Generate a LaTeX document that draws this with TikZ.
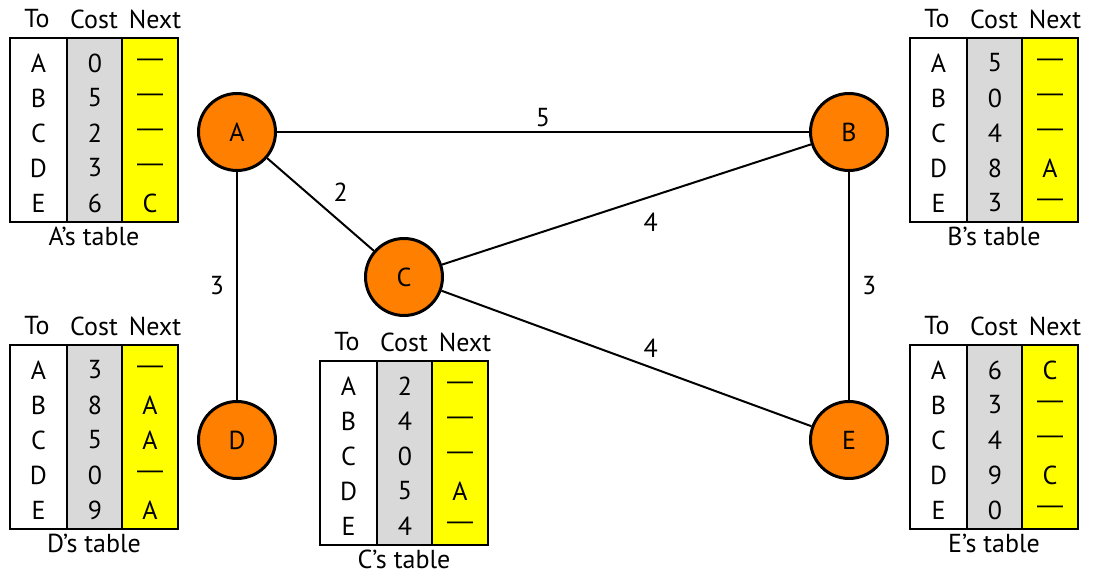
\documentclass[tikz,border=0pt]{standalone}
\usepackage{fontspec}
\setmainfont{PT Sans}
\newfontfamily\dashfont{Liberation Sans}
\usetikzlibrary{positioning}

\definecolor{nodeorange}{RGB}{255,128,0}
\definecolor{costgray}{RGB}{217,217,217}
\definecolor{nextyellow}{RGB}{255,255,0}

\newcommand{\nohop}{{\dashfont\fontsize{13}{15}\selectfont\raisebox{-1pt}{—}}}

\tikzset{
  router/.style={circle, draw, line width=1.5pt, fill=nodeorange,
    minimum size=38.5pt, inner sep=0pt, font=\fontsize{13}{15}\selectfont},
  link/.style={line width=1pt},
  cost/.style={font=\fontsize{13}{15}\selectfont, inner sep=2pt},
  cell/.style={font=\fontsize{13}{15}\selectfont, inner sep=0pt},
}

% routing table: x, y (top left), owner, costs, next hops
\newcommand{\rtable}[5]{%
  \begin{scope}[shift={(#1,#2)}]
    \fill[costgray] (57,0) rectangle (112,184);
    \fill[nextyellow] (112,0) rectangle (168,184);
    \draw[line width=1pt] (0,0) rectangle (168,184);
    \draw[line width=1pt] (57,0) -- (57,184) (112,0) -- (112,184);
    \node[cell] at (27,-19) {To};
    \node[cell] at (84,-19) {Cost};
    \node[cell] at (145,-19) {Next};
    \foreach \t [count=\i] in {A,B,C,D,E}
      \node[cell] at (28.5,{25+35*(\i-1)}) {\t};
    \foreach \c [count=\i] in {#4}
      \node[cell] at (85,{25+35*(\i-1)}) {\c};
    \foreach \n [count=\i] in {#5}
      \node[cell] at (140,{25+35*(\i-1)}) {\n};
    \node[cell] at (84,198) {#3’s table};
  \end{scope}}

\begin{document}
\begin{tikzpicture}[x=0.5pt, y=-0.5pt]
  \useasboundingbox (0,0) rectangle (1103,576);

  % routers
  \node[router] (A) at (237,132) {A};
  \node[router] (B) at (849,132) {B};
  \node[router] (C) at (404,277) {C};
  \node[router] (D) at (237,440) {D};
  \node[router] (E) at (849,440) {E};

  % links
  \draw[link] (A) -- node[cost, above] {5} (B);
  \draw[link] (A) -- node[cost, above right=-1pt and 4pt] {2} (C);
  \draw[link] (A) -- node[cost, left=4pt] {3} (D);
  \draw[link] (C) -- node[cost, below right=2pt and 6pt] {4} (B);
  \draw[link] (C) -- node[cost, above right=-2pt and 6pt] {4} (E);
  \draw[link] (B) -- node[cost, right=4pt] {3} (E);

  % tables
  \rtable{10}{38}{A}{0,5,2,3,6}{\nohop,\nohop,\nohop,\nohop,C}
  \rtable{910}{38}{B}{5,0,4,8,3}{\nohop,\nohop,\nohop,A,\nohop}
  \rtable{320}{361}{C}{2,4,0,5,4}{\nohop,\nohop,\nohop,A,\nohop}
  \rtable{10}{345}{D}{3,8,5,0,9}{\nohop,A,A,\nohop,A}
  \rtable{910}{345}{E}{6,3,4,9,0}{C,\nohop,\nohop,C,\nohop}
\end{tikzpicture}
\end{document}
